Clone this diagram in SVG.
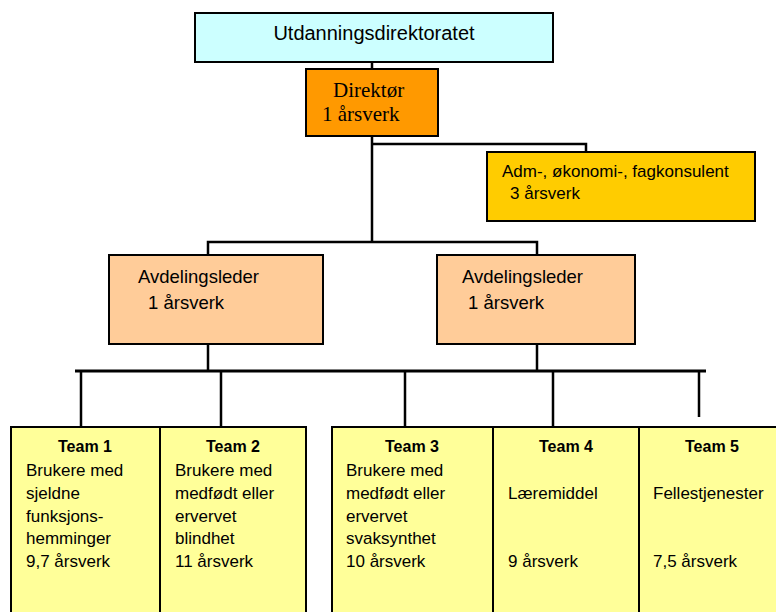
<svg xmlns="http://www.w3.org/2000/svg" width="776" height="612" viewBox="0 0 776 612">
<style>
.box{stroke:#000;stroke-width:2}
.conn{fill:none;stroke:#000;stroke-width:2.5}
.sans{font-family:"Liberation Sans",Arial,sans-serif;fill:#000}
.serif{font-family:"Liberation Serif","Times New Roman",serif;fill:#000;font-size:21px}
.team{font-size:17px}
.title{font-size:16px;font-weight:bold}
</style>
<rect width="776" height="612" fill="#fff"/>
<g id="connectors">
<path class="conn" d="M372 62V69"/>
<path class="conn" d="M372 136V242M372 144H586V152"/>
<path class="conn" d="M208 255V242H537V255"/>
<path class="conn" d="M208 344V371M537 344V371"/>
<path class="conn" style="stroke-width:3" d="M75 371H706"/>
<path class="conn" d="M81 371V427M221 371V427M405 371V427M553 371V427M699 371V417"/>
</g>
<g id="utdanningsdirektoratet">
<rect class="box" x="195" y="13" width="358" height="49" fill="#CCFFFF"/>
<text class="sans" x="374" y="40" font-size="20" text-anchor="middle">Utdanningsdirektoratet</text>
</g>
<g id="direktor">
<rect class="box" x="306" y="69" width="132" height="67" fill="#FF9900"/>
<text class="serif" x="333" y="97">Direktør</text>
<text class="serif" x="322" y="121">1 årsverk</text>
</g>
<g id="adm">
<rect class="box" x="487" y="152" width="268" height="69" fill="#FFCC00"/>
<text class="sans" x="502" y="177" font-size="17">Adm-, økonomi-, fagkonsulent</text>
<text class="sans" x="510" y="199" font-size="17">3 årsverk</text>
</g>
<g id="avdelingsleder1">
<rect class="box" x="109" y="255" width="214" height="89" fill="#FFCC99"/>
<text class="sans" x="138" y="283" font-size="18.5">Avdelingsleder</text>
<text class="sans" x="148" y="309" font-size="18.5">1 årsverk</text>
</g>
<g id="avdelingsleder2">
<rect class="box" x="437" y="255" width="198" height="89" fill="#FFCC99"/>
<text class="sans" x="462" y="283" font-size="18.5">Avdelingsleder</text>
<text class="sans" x="468" y="309" font-size="18.5">1 årsverk</text>
</g>
<g id="team1">
<rect class="box" x="11" y="427" width="149" height="200" fill="#FFFF99"/>
<text class="sans title" x="85" y="452" text-anchor="middle">Team 1</text>
<text class="sans team" x="26" y="476">Brukere med</text>
<text class="sans team" x="26" y="499">sjeldne</text>
<text class="sans team" x="26" y="522">funksjons-</text>
<text class="sans team" x="26" y="544">hemminger</text>
<text class="sans team" x="26" y="567">9,7 årsverk</text>
</g>
<g id="team2">
<rect class="box" x="160" y="427" width="146" height="200" fill="#FFFF99"/>
<text class="sans title" x="233" y="452" text-anchor="middle">Team 2</text>
<text class="sans team" x="175" y="476">Brukere med</text>
<text class="sans team" x="175" y="499">medfødt eller</text>
<text class="sans team" x="175" y="522">ervervet</text>
<text class="sans team" x="175" y="544">blindhet</text>
<text class="sans team" x="175" y="567">11 årsverk</text>
</g>
<g id="team3">
<rect class="box" x="332" y="427" width="161" height="200" fill="#FFFF99"/>
<text class="sans title" x="412" y="452" text-anchor="middle">Team 3</text>
<text class="sans team" x="346" y="476">Brukere med</text>
<text class="sans team" x="346" y="499">medfødt eller</text>
<text class="sans team" x="346" y="522">ervervet</text>
<text class="sans team" x="346" y="544">svaksynthet</text>
<text class="sans team" x="346" y="567">10 årsverk</text>
</g>
<g id="team4">
<rect class="box" x="493" y="427" width="146" height="200" fill="#FFFF99"/>
<text class="sans title" x="566" y="452" text-anchor="middle">Team 4</text>
<text class="sans team" x="508" y="499">Læremiddel</text>
<text class="sans team" x="508" y="567">9 årsverk</text>
</g>
<g id="team5">
<rect class="box" x="639" y="427" width="150" height="200" fill="#FFFF99"/>
<text class="sans title" x="712" y="452" text-anchor="middle">Team 5</text>
<text class="sans team" x="653" y="499">Fellestjenester</text>
<text class="sans team" x="653" y="567">7,5 årsverk</text>
</g>
</svg>
